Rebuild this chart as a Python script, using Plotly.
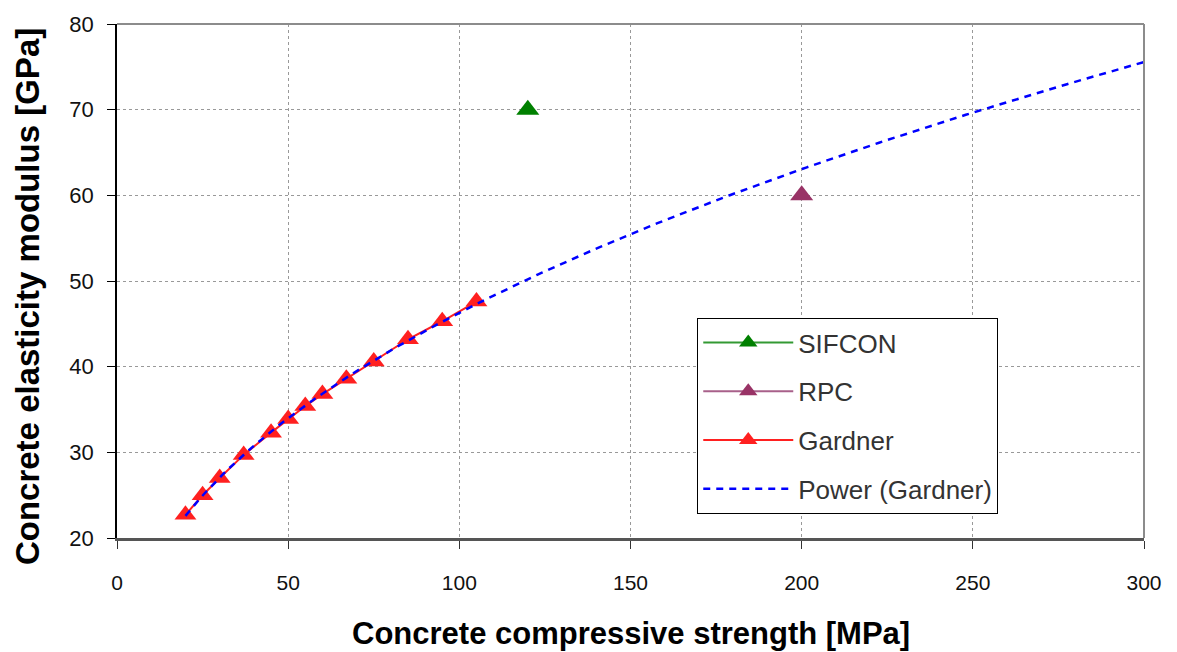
import numpy as np
import plotly.graph_objects as go

# Measured data
gardner_fc = [20, 25, 30, 37, 45, 50, 55, 60, 67, 75, 85, 95, 105]
gardner_e = [22.7, 25.0, 27.0, 29.7, 32.3, 33.9, 35.4, 36.8, 38.6, 40.6, 43.2, 45.3, 47.6]
sifcon_fc = [120]
sifcon_e = [70]
rpc_fc = [200]
rpc_e = [60]

x_ticks = [0, 50, 100, 150, 200, 250, 300]
y_ticks = [20, 30, 40, 50, 60, 70, 80]

# Power trendline E = a * fc^b fitted to the Gardner data (least squares in log space)
b, log_a = np.polyfit(np.log(gardner_fc), np.log(gardner_e), 1)
trend_x = np.linspace(20, 300, 200)
trend_y = np.exp(log_a) * trend_x ** b

fig = go.Figure()

fig.add_trace(go.Scatter(
    x=sifcon_fc, y=sifcon_e, name="SIFCON", mode="lines+markers",
    line=dict(color="#339933", width=2),
    marker=dict(symbol="triangle-up", size=20, color="#008000"),
    legendgroup="a",
))
fig.add_trace(go.Scatter(
    x=rpc_fc, y=rpc_e, name="RPC", mode="lines+markers",
    line=dict(color="#a8608a", width=2),
    marker=dict(symbol="triangle-up", size=20, color="#993366"),
    legendgroup="b",
))
fig.add_trace(go.Scatter(
    x=gardner_fc, y=gardner_e, name="Gardner", mode="lines+markers",
    line=dict(color="#ff2020", width=2),
    marker=dict(symbol="triangle-up", size=19, color="#ff2020"),
    legendgroup="c",
))
fig.add_trace(go.Scatter(
    x=trend_x, y=trend_y, name="Power (Gardner)", mode="lines",
    line=dict(color="#0000ff", width=2.5, dash="7px,6px"),
    legendgroup="d",
))

x_tick_font = dict(family="Liberation Sans, Arial, sans-serif", size=21, color="#111111")
y_tick_font = dict(family="Liberation Sans, Arial, sans-serif", size=22, color="#111111")

fig.update_xaxes(
    range=[0, 300], tickvals=x_ticks, ticktext=[str(v) for v in x_ticks],
    showgrid=True, gridcolor="#999999", griddash="dot", gridwidth=1,
    showline=True, linecolor="#555555", linewidth=2.5,
    ticks="outside", ticklen=8, tickcolor="#333333", tickwidth=1,
    tickfont=x_tick_font, ticklabelstandoff=16, zeroline=False,
)
fig.update_yaxes(
    range=[20, 80], tickvals=y_ticks, ticktext=[str(v) for v in y_ticks],
    showgrid=True, gridcolor="#999999", griddash="dot", gridwidth=1,
    showline=True, linecolor="#000000", linewidth=1.5,
    ticks="outside", ticklen=8, tickcolor="#000000", tickwidth=1,
    tickfont=y_tick_font, ticklabelstandoff=9, zeroline=False,
)

# Plot-area frame on the top and right edges
fig.add_shape(type="line", xref="paper", yref="paper", x0=0, x1=1, y0=1, y1=1,
              line=dict(color="#8c8c8c", width=2))
fig.add_shape(type="line", xref="paper", yref="paper", x0=1, x1=1, y0=0, y1=1,
              line=dict(color="#8c8c8c", width=2))

fig.add_annotation(
    text="<b>Concrete compressive strength [MPa]</b>", xref="paper", yref="paper",
    x=0.5, y=-0.185, xanchor="center", yanchor="middle", showarrow=False,
    font=dict(family="Liberation Sans, Arial, sans-serif", size=31, color="#000000"),
)
fig.add_annotation(
    text="<b>Concrete elasticity modulus [GPa]</b>", xref="paper", yref="paper",
    x=-0.087, y=0.47, xanchor="center", yanchor="middle", textangle=-90,
    showarrow=False, font=dict(family="Liberation Sans, Arial, sans-serif", size=33, color="#000000"),
)

fig.update_layout(
    width=1177, height=652,
    margin=dict(l=117, r=33, t=20, b=114),
    paper_bgcolor="white", plot_bgcolor="white",
    showlegend=True,
    legend=dict(
        x=0.565, y=0.428, xanchor="left", yanchor="top",
        bgcolor="white", bordercolor="#000000", borderwidth=1,
        font=dict(family="Liberation Sans, Arial, sans-serif", size=26, color="#333333"),
        traceorder="grouped", tracegroupgap=12, itemwidth=90,
    ),
)

fig.write_html("out.html")
